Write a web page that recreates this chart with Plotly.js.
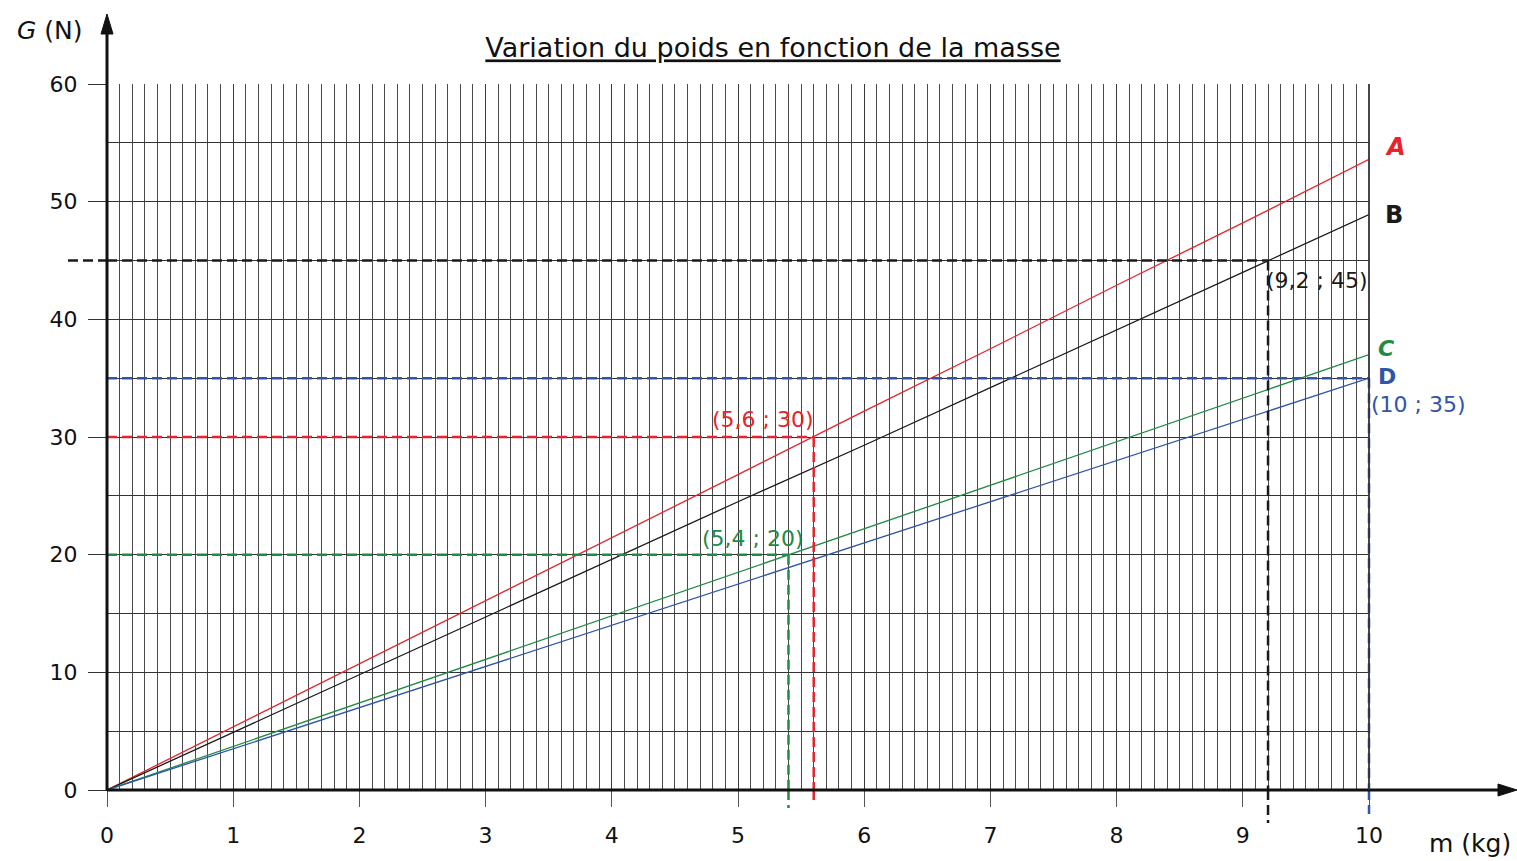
<!DOCTYPE html>
<html><head><meta charset="utf-8">
<script src="https://cdn.plot.ly/plotly-3.0.1.min.js"></script>
<style>html,body{margin:0;padding:0;background:#fff}#chart{width:1517px;height:861px}</style>
</head><body><div id="chart"></div>
<script>
// ---- data ----
const masses  = [0, 1, 2, 3, 4, 5, 6, 7, 8, 9, 10];
const weightA = [0, 5.36, 10.7, 16.1, 21.4, 26.8, 32.2, 37.5, 42.9, 48.2, 53.6];
const weightB = [0, 4.9, 9.8, 14.7, 19.6, 24.5, 29.3, 34.2, 39.1, 44.0, 48.9];
const weightC = [0, 3.7, 7.4, 11.1, 14.8, 18.5, 22.2, 25.9, 29.6, 33.3, 37.0];
const weightD = [0, 3.5, 7.0, 10.5, 14.0, 17.5, 21.0, 24.5, 28.0, 31.5, 35.0];
const seriesNames = ['A', 'B', 'C', 'D'];
const guideMass   = [5.6, 9.2, 5.4, 10];
const guideWeight = [30, 45, 20, 35];
const guideLabels = ['(5,6 ; 30)', '(9,2 ; 45)', '(5,4 ; 20)', '(10 ; 35)'];
const xTickVals = [0, 1, 2, 3, 4, 5, 6, 7, 8, 9, 10];
const yTickVals = [0, 10, 20, 30, 40, 50, 60];

// ---- styles ----
const seriesColors = ['#e8232b', '#1a1a1a', '#1f8b44', '#2f55a8'];
const guideColors  = ['#e8232b', '#1a1a1a', '#1f8b44', '#2f55a8'];
const letterStyle  = [{it:true, dx:14, dy:12, size:24}, {it:false, dx:14, dy:0, size:24}, {it:true, dx:7, dy:6, size:22}, {it:false, dx:7, dy:2, size:22}];
const labelStyle   = [{anchor:'right', dx:2, dy:18}, {anchor:'left', dx:-4, dy:-20}, {anchor:'right', dx:18, dy:16}, {anchor:'left', dx:0, dy:-26}];
const guideLeftExt = [0, 39, 0, 0];     // px beyond y axis
const guideDownExt = [13, 33, 18, 24];  // px below x axis
const FONT = 'DejaVu Sans, sans-serif';

const W = 1517, H = 861, ML = 107, MR = 148, MT = 84, MB = 71;
const PW = W - ML - MR, PH = H - MT - MB;
const px2x = p => (p - ML) / PW;
const py2y = p => (H - MB - p) / PH;

const allSeries = [weightA, weightB, weightC, weightD];
const traces = allSeries.map((w, i) => ({
  x: masses, y: w, type: 'scatter', mode: 'lines', name: seriesNames[i],
  line: {color: seriesColors[i], width: 1.3}, hoverinfo: 'skip'
}));

const shapes = [];
const dash = '10px,5px';
guideMass.forEach((m, i) => {
  const g = guideWeight[i], c = guideColors[i];
  const ln = {color: c, width: 2.5, dash: dash};
  shapes.push({type: 'line', xref: 'x', yref: 'y', x0: 0, x1: m, y0: g, y1: g, line: ln});
  if (guideLeftExt[i] > 0)
    shapes.push({type: 'line', xref: 'paper', yref: 'y', x0: px2x(ML - guideLeftExt[i]), x1: 0, y0: g, y1: g, line: ln});
  const atEdge = m >= xTickVals[xTickVals.length - 1];
  const xr = atEdge ? 'paper' : 'x', xv = atEdge ? 1 : m;
  shapes.push({type: 'line', xref: xr, yref: 'y', x0: xv, x1: xv, y0: g, y1: 0, line: ln});
  shapes.push({type: 'line', xref: xr, yref: 'paper', x0: xv, x1: xv, y0: 0, y1: -guideDownExt[i] / PH, line: ln});
});
// axes with arrows
shapes.push({type: 'line', xref: 'paper', yref: 'paper', x0: 0, x1: px2x(1505), y0: 0, y1: 0, line: {color: '#111', width: 3}});
shapes.push({type: 'line', xref: 'paper', yref: 'paper', x0: 0, x1: 0, y0: py2y(H - MB + 1), y1: py2y(28), line: {color: '#111', width: 3}});
shapes.push({type: 'line', xref: 'paper', yref: 'paper', x0: 1, x1: 1, y0: 0, y1: 1, line: {color: '#333', width: 1.8}});
const ax0 = px2x(1498), ax1 = px2x(1517), ay = 6 / PH;
shapes.push({type: 'path', xref: 'paper', yref: 'paper', path: `M ${ax0} ${ay} L ${ax1} 0 L ${ax0} ${-ay} Z`, fillcolor: '#111', line: {color: '#111', width: 1}});
const by0 = py2y(34), by1 = py2y(14), bx = 6 / PW;
shapes.push({type: 'path', xref: 'paper', yref: 'paper', path: `M ${-bx} ${by0} L 0 ${by1} L ${bx} ${by0} Z`, fillcolor: '#111', line: {color: '#111', width: 1}});

const annotations = [];
allSeries.forEach((w, i) => {
  const s = letterStyle[i];
  const t = s.it ? `<b><i>${seriesNames[i]}</i></b>` : `<b>${seriesNames[i]}</b>`;
  annotations.push({xref: 'paper', yref: 'y', x: 1, y: w[w.length - 1], text: t, showarrow: false,
    xanchor: 'left', yanchor: 'middle', xshift: s.dx, yshift: s.dy, font: {family: FONT, size: s.size, color: seriesColors[i]}});
});
guideMass.forEach((m, i) => {
  const s = labelStyle[i];
  const atEdge = m >= xTickVals[xTickVals.length - 1];
  annotations.push({xref: atEdge ? 'paper' : 'x', yref: 'y', x: atEdge ? 1 : m, y: guideWeight[i], text: guideLabels[i],
    showarrow: false, xanchor: s.anchor, yanchor: 'middle', xshift: s.dx, yshift: s.dy,
    font: {family: FONT, size: 22, color: guideColors[i]}});
});
annotations.push({xref: 'paper', yref: 'paper', x: px2x(50), y: py2y(31), text: '<i>G</i> (N)', showarrow: false,
  xanchor: 'center', yanchor: 'middle', font: {family: FONT, size: 25, color: '#111'}});
annotations.push({xref: 'paper', yref: 'paper', x: px2x(1470), y: py2y(843), text: 'm (kg)', showarrow: false,
  xanchor: 'center', yanchor: 'middle', font: {family: FONT, size: 25, color: '#111'}});

const layout = {
  width: W, height: H,
  margin: {l: ML, r: MR, t: MT, b: MB, pad: 0},
  paper_bgcolor: '#fff', plot_bgcolor: '#fff',
  showlegend: false,
  title: {text: '<u>Variation du poids en fonction de la masse</u>', x: 773 / W, xanchor: 'center',
    y: 1 - 48 / H, yanchor: 'middle', font: {family: FONT, size: 27, color: '#111'}},
  xaxis: {range: [0, 10], tickvals: xTickVals, ticktext: xTickVals.map(String), ticks: 'outside', ticklen: 16,
    tickcolor: '#555', tickwidth: 1, ticklabelstandoff: 10,
    showgrid: true, gridcolor: '#3a3a3a', gridwidth: 1, zeroline: false, showline: false,
    minor: {dtick: 0.1, showgrid: true, gridcolor: '#4a4a4a', gridwidth: 1, ticks: ''},
    tickfont: {family: FONT, size: 22, color: '#111'}, fixedrange: true},
  yaxis: {range: [0, 60], tickvals: yTickVals, ticktext: yTickVals.map(String), ticks: 'outside', ticklen: 18,
    tickcolor: '#333', tickwidth: 1, ticklabelstandoff: 6,
    showgrid: true, gridcolor: '#333', gridwidth: 1, zeroline: false, showline: false,
    minor: {dtick: 5, showgrid: true, gridcolor: '#333', gridwidth: 1, ticks: ''},
    tickfont: {family: FONT, size: 22, color: '#111'}, fixedrange: true},
  shapes: shapes, annotations: annotations
};
Plotly.newPlot('chart', traces, layout, {displayModeBar: false, staticPlot: true});
</script></body></html>
